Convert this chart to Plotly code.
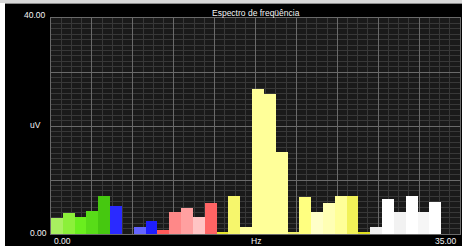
import plotly.graph_objects as go

# ---- data ----
title_text = "Espectro de freqüência"
x_label = "Hz"
y_label = "uV"
x_tick_labels = ["0.00", "35.00"]
y_tick_labels = ["0.00", "40.00"]
x_range = [0, 35]
y_range = [0, 40]
bin_width = 1.012  # Hz per spectral bin
amplitudes = [2.9, 3.95, 3.2, 4.3, 7.1, 5.1, 0.0, 1.25, 2.4, 0.7, 4.0, 4.8, 3.2, 5.7,
              0.4, 7.1, 1.35, 26.8, 26.0, 15.2, 0.4, 6.8, 4.0, 5.7, 7.1, 7.1, 0.4,
              1.25, 6.5, 4.0, 7.1, 4.0, 6.0]
bin_index = list(range(len(amplitudes)))

# ---- styles ----
bar_colors = ["#a8f060", "#8cf03a", "#6aee1e", "#58dc18", "#46c810", "#2a2aff", "#000000",
              "#6464ff", "#1e1eff", "#ff5a5a", "#ff8888", "#ffa0a0", "#ffc4c4", "#ff6464",
              "#e8e830", "#f6f66c", "#ffffa0", "#ffff99", "#ffff99", "#ffff99", "#f0f070",
              "#ffff80", "#ffffc8", "#ffffb4", "#ffff98", "#f2f258", "#e0e020",
              "#f0f0f0", "#ffffff", "#f2f2f2", "#ffffff", "#f6f6f6", "#ffffff"]

centers = [(i + 0.5) * bin_width for i in bin_index]

fig = go.Figure()
fig.add_trace(go.Bar(x=centers, y=amplitudes, width=[bin_width] * len(amplitudes),
                     marker=dict(color=bar_colors, line=dict(width=0)),
                     hoverinfo="skip"))

W, H = 462, 246
L, R, T, B = 51, 2, 18, 12
pw, ph = W - L - R, H - T - B

def px(x):
    return (x - L) / pw

def py(y):
    return (H - B - y) / ph

font = "Liberation Sans Narrow, Liberation Sans, Arial, sans-serif"
fc = "#f4f4f4"
fs = 8.5

fig.update_layout(
    width=W, height=H,
    margin=dict(l=L, r=R, t=T, b=B, pad=0),
    paper_bgcolor="#000000",
    plot_bgcolor="#1a1a1a",
    showlegend=False,
    bargap=0,
    xaxis=dict(range=x_range, dtick=3.5, tick0=0, showticklabels=False, ticks="",
               showgrid=True, gridcolor="#6a6a6a", gridwidth=1, zeroline=False,
               showline=True, linecolor="#6a6a6a", mirror=True,
               minor=dict(dtick=0.875, showgrid=True, gridcolor="#383838", gridwidth=1)),
    yaxis=dict(range=y_range, dtick=10, tick0=0, showticklabels=False, ticks="",
               showgrid=True, gridcolor="#6a6a6a", gridwidth=1, zeroline=False,
               showline=True, linecolor="#6a6a6a", mirror=True,
               minor=dict(dtick=1, showgrid=True, gridcolor="#383838", gridwidth=1)),
)

ann = [
    dict(text=title_text, x=px(256), y=py(13), xanchor="center", yanchor="middle"),
    dict(text=y_tick_labels[1], x=px(48), y=py(15), xanchor="right", yanchor="middle"),
    dict(text=y_tick_labels[0], x=px(49), y=py(233), xanchor="right", yanchor="middle"),
    dict(text=y_label, x=px(35), y=py(125), xanchor="center", yanchor="middle"),
    dict(text=x_tick_labels[0], x=px(52), y=py(241), xanchor="left", yanchor="middle"),
    dict(text=x_label, x=px(256), y=py(241), xanchor="center", yanchor="middle"),
    dict(text=x_tick_labels[1], x=px(459), y=py(241), xanchor="right", yanchor="middle"),
]
for a in ann:
    fig.add_annotation(xref="paper", yref="paper", showarrow=False,
                       font=dict(family=font, size=fs, color=fc), **a)

# window frame: white left strip, grey top strip
fig.add_shape(type="rect", xref="paper", yref="paper", x0=px(-2), x1=px(5), y0=py(260), y1=py(-2),
              fillcolor="#ffffff", line=dict(width=0), layer="above")
fig.add_shape(type="rect", xref="paper", yref="paper", x0=px(-2), x1=px(470), y0=py(3), y1=py(-2),
              fillcolor="#d8d8d8", line=dict(width=0), layer="above")
fig.add_shape(type="rect", xref="paper", yref="paper", x0=px(5), x1=px(470), y0=py(4), y1=py(3),
              fillcolor="#8c8c8c", line=dict(width=0), layer="above")

fig.write_html("out.html", config={"displayModeBar": False},
               post_script="document.body.style.margin='0';document.body.style.overflow='hidden';")
